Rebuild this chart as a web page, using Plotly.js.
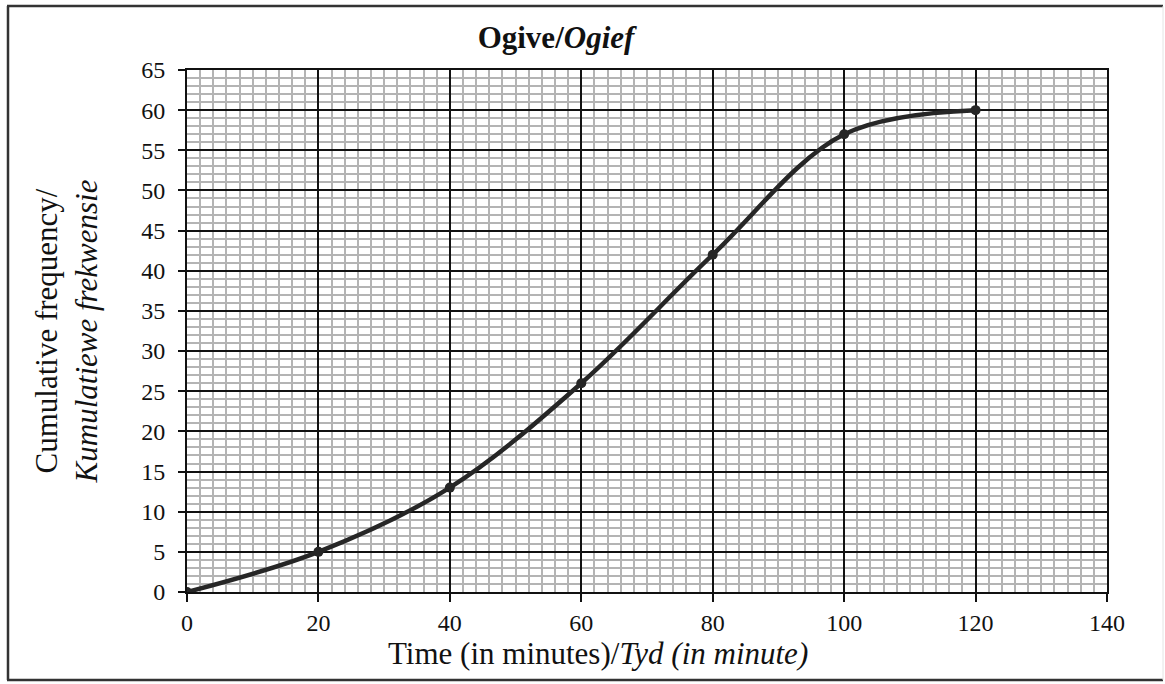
<!DOCTYPE html>
<html>
<head>
<meta charset="utf-8">
<script src="https://cdn.plot.ly/plotly-3.0.1.min.js"></script>
<style>
  html, body { margin: 0; padding: 0; background: #fff; }
  #chart { width: 1165px; height: 684px; }
</style>
</head>
<body>
<div id="chart"></div>
<script>
// Data read from the ogive
const timeMinutes = [0, 20, 40, 60, 80, 100, 120];
const cumulativeFrequency = [0, 5, 13, 26, 42, 57, 60];
const xTickValues = [0, 20, 40, 60, 80, 100, 120, 140];
const yTickValues = [0, 5, 10, 15, 20, 25, 30, 35, 40, 45, 50, 55, 60, 65];

const chartTitle = '<b>Ogive/<i>Ogief</i></b>';
const xTitle = 'Time (in minutes)/<i>Tyd (in minute)</i>';
const yTitle = 'Cumulative frequency/<br><i>Kumulatiewe frekwensie</i>';

const FONT = '"Liberation Serif", "Times New Roman", "DejaVu Serif", serif';

// plot-area geometry (pixels)
const L = 187, R = 1107, T = 70, B = 592, W = 1165, H = 684;
const pw = R - L, ph = B - T;
const px = v => (v - L) / pw;
const py = v => (B - v) / ph;

const trace = {
  x: timeMinutes,
  y: cumulativeFrequency,
  type: 'scatter',
  mode: 'lines+markers',
  line: { shape: 'spline', smoothing: 1, color: '#262626', width: 4.5 },
  marker: { size: 10, color: '#262626' },
  hoverinfo: 'x+y',
  showlegend: false
};

const layout = {
  width: W,
  height: H,
  margin: { l: L, r: W - R, t: T, b: H - B, pad: 0 },
  paper_bgcolor: '#ffffff',
  plot_bgcolor: '#ffffff',
  font: { family: FONT, color: '#111', size: 24 },
  title: {
    text: chartTitle,
    font: { family: FONT, size: 31, color: '#111' },
    xref: 'container', x: 556 / W, xanchor: 'center',
    yref: 'container', y: 1 - 37 / H, yanchor: 'middle'
  },
  xaxis: {
    range: [0, 140],
    tickmode: 'array',
    tickvals: xTickValues,
    ticks: 'outside', ticklen: 8, tickwidth: 2, tickcolor: '#111',
    showline: true, linecolor: '#111', linewidth: 2, mirror: true,
    showgrid: true, gridcolor: '#111', gridwidth: 2,
    zeroline: false,
    tickfont: { family: FONT, size: 24, color: '#111' },
    minor: { dtick: 2, showgrid: true, gridcolor: '#b4b4b4', gridwidth: 1.5, ticks: '' },
    fixedrange: true
  },
  yaxis: {
    range: [0, 65],
    tickmode: 'array',
    tickvals: yTickValues,
    ticks: 'outside', ticklen: 7, tickwidth: 2, tickcolor: '#111',
    ticklabelstandoff: 8,
    showline: true, linecolor: '#111', linewidth: 2, mirror: true,
    showgrid: true, gridcolor: '#111', gridwidth: 2,
    zeroline: false,
    tickfont: { family: FONT, size: 24, color: '#111' },
    minor: { dtick: 1, showgrid: true, gridcolor: '#b4b4b4', gridwidth: 1.5, ticks: '' },
    title: { text: yTitle, font: { family: FONT, size: 31, color: '#111' }, standoff: 34 },
    automargin: false,
    fixedrange: true
  },
  annotations: [
    {
      text: xTitle,
      xref: 'paper', yref: 'paper',
      x: px(598), y: py(653),
      xanchor: 'center', yanchor: 'middle',
      showarrow: false,
      font: { family: FONT, size: 31, color: '#111' }
    }
  ],
  shapes: [
    { type: 'line', xref: 'paper', yref: 'paper', x0: px(7), x1: px(1163), y0: py(6), y1: py(6), line: { color: '#333', width: 2.5 } },
    { type: 'line', xref: 'paper', yref: 'paper', x0: px(7), x1: px(1163), y0: py(680), y1: py(680), line: { color: '#333', width: 2.5 } },
    { type: 'line', xref: 'paper', yref: 'paper', x0: px(8), x1: px(8), y0: py(6), y1: py(680), line: { color: '#333', width: 2.5 } },
    { type: 'line', xref: 'paper', yref: 'paper', x0: px(1163), x1: px(1163), y0: py(6), y1: py(680), line: { color: '#e4e4e4', width: 1 } }
  ]
};

Plotly.newPlot('chart', [trace], layout, { displayModeBar: false, staticPlot: false });
</script>
</body>
</html>
